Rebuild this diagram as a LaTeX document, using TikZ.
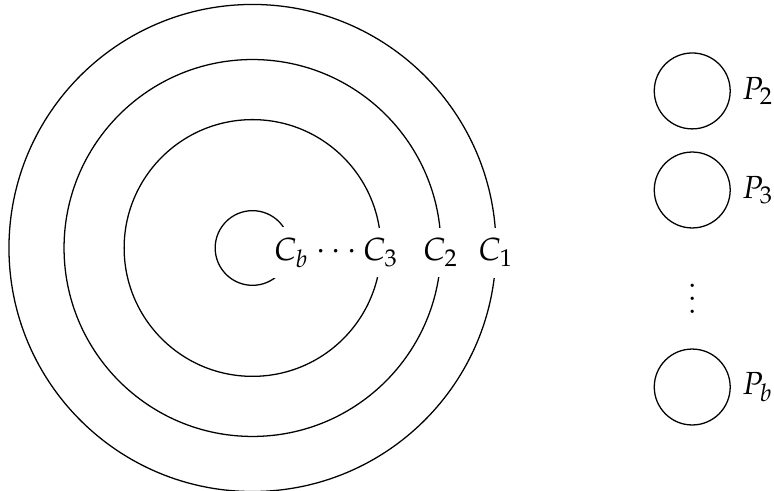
\documentclass[tikz,border=0pt]{standalone}
\usepackage{amsmath}
\usepackage{mathpazo}
\usepackage{tikz}
\usetikzlibrary{positioning}

\begin{document}
\begin{tikzpicture}[lbl/.style={fill=white}, proc/.style={draw, circle, inner sep=0pt, minimum size=0.834cm}]
            \useasboundingbox (-2.7735, -2.669) rectangle (5.728, 2.724);
            \coordinate (O) at (0, 0);

            % Define the shells
            \draw (O) circle (2.675);
            \draw (O) circle (2.07);
            \draw (O) circle (1.41);
            \draw (O) circle (0.41);

            \node[lbl] (C1) at (2.675, -0.05) {$C_1$};
            \node[lbl] (C2) at (2.07, -0.05) {$C_2$};
            \node[lbl] (C3) at (1.41, -0.05) {$C_3$};
            \node[lbl] (Cb) at (0.43, -0.05) {$C_b$};
            \node (cdots) at (0.95, -0.05) {$\cdots$};

            % Define the processes
            \node[proc, label=right:$P_2$] (P2) at (4.83, 1.725) {};
            \node[proc, label=right:$P_3$] (P3) at (4.83, 0.637) {};
            \node (vdots) at (4.83, -0.45) {$\vdots$};
            \node[proc, label=right:$P_b$] (Pb) at (4.83, -1.527) {};
      \end{tikzpicture}
\end{document}
